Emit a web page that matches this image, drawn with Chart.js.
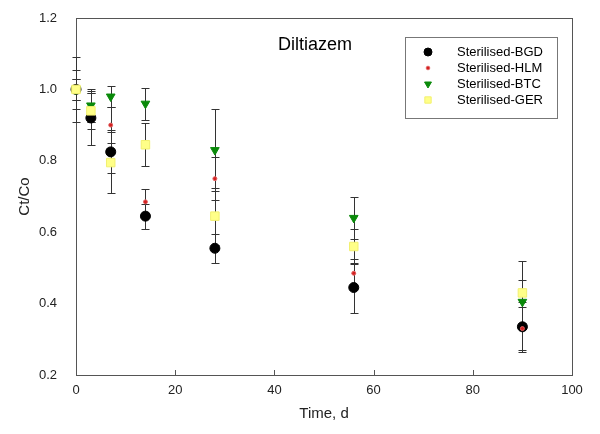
<!DOCTYPE html>
<html>
<head>
<meta charset="utf-8">
<script src="https://cdn.jsdelivr.net/npm/chart.js@4"></script>
<style>
  html, body { margin: 0; padding: 0; background: #fff; }
  #wrap { width: 600px; height: 434px; }
</style>
</head>
<body>
<div id="wrap"><canvas id="chart" width="600" height="434"></canvas></div>
<script>
// sampling days
const times = [0, 3, 7, 14, 28, 56, 90];

// Ct/Co values and error (+/-)
const bgd = [1.0, 0.92, 0.825, 0.645, 0.555, 0.445, 0.335];
const bgdErr = [0.09, 0.075, 0.06, 0.035, 0.04, 0.07, 0.07];
const hlm = [1.0, 0.95, 0.90, 0.685, 0.75, 0.485, 0.33];
const hlmErr = [0.03, 0.04, 0.05, 0.035, 0.06, 0.04, 0.06];
const btc = [1.0, 0.955, 0.98, 0.96, 0.83, 0.64, 0.405];
const btcErr = [0.055, 0.045, 0.03, 0.045, 0.115, 0.06, 0.06];
const ger = [1.0, 0.94, 0.795, 0.845, 0.645, 0.56, 0.43];
const gerErr = [0.03, 0.05, 0.085, 0.06, 0.08, 0.05, 0.09];

const labels = ['Sterilised-BGD', 'Sterilised-HLM', 'Sterilised-BTC', 'Sterilised-GER'];
const xTicks = [0, 20, 40, 60, 80, 100];
const yTicks = [0.2, 0.4, 0.6, 0.8, 1.0, 1.2];

const FONT = '"Liberation Sans", Arial, sans-serif';

function pts(vals, errs) {
    return times.map((t, i) => ({ x: t, y: vals[i], err: errs[i] }));
}

const errorBars = {
    id: 'errorBars',
    beforeDatasetsDraw(chart) {
        const ctx = chart.ctx;
        const xs = chart.scales.x, ys = chart.scales.y;
        ctx.save();
        ctx.strokeStyle = '#333';
        ctx.lineWidth = 1;
        chart.data.datasets.forEach(ds => {
            ds.data.forEach(p => {
                const px = Math.round(xs.getPixelForValue(p.x)) + 0.5;
                const top = Math.round(ys.getPixelForValue(p.y + p.err)) + 0.5;
                const bot = Math.round(ys.getPixelForValue(p.y - p.err)) + 0.5;
                ctx.beginPath();
                ctx.moveTo(px, top); ctx.lineTo(px, bot);
                ctx.moveTo(px - 4, top); ctx.lineTo(px + 4, top);
                ctx.moveTo(px - 4, bot); ctx.lineTo(px + 4, bot);
                ctx.stroke();
            });
        });
        ctx.restore();
    }
};

const frame = {
    id: 'frame',
    beforeDatasetsDraw(chart) {
        const ctx = chart.ctx;
        const a = chart.chartArea;
        ctx.save();
        ctx.strokeStyle = '#555';
        ctx.lineWidth = 1;
        ctx.strokeRect(Math.round(a.left) + 0.5, Math.round(a.top) + 0.5,
            Math.round(a.right - a.left), Math.round(a.bottom - a.top));
        // x ticks point inward
        const xs = chart.scales.x;
        ctx.beginPath();
        xTicks.forEach(v => {
            const px = Math.round(xs.getPixelForValue(v)) + 0.5;
            ctx.moveTo(px, a.bottom); ctx.lineTo(px, a.bottom - 5);
        });
        ctx.stroke();
        ctx.restore();
    },
    afterDraw(chart) {
        const ctx = chart.ctx;
        ctx.save();
        // title inside plot
        ctx.fillStyle = '#000';
        ctx.font = '18px ' + FONT;
        ctx.textBaseline = 'middle';
        ctx.fillText('Diltiazem', 278, 45);
        // legend box
        ctx.strokeStyle = '#777';
        ctx.lineWidth = 1;
        ctx.strokeRect(405.5, 37.5, 152, 81);
        ctx.font = '13px ' + FONT;
        chart.data.datasets.forEach((ds, i) => {
            const y = 52 + i * 16;
            ctx.fillStyle = ds.backgroundColor;
            ctx.strokeStyle = ds.borderColor;
            Chart.helpers.drawPoint(ctx, {
                pointStyle: ds.pointStyle,
                radius: ds.legendRadius,
                rotation: ds.rotation || 0,
                borderWidth: 1
            }, 428, y);
            ctx.fillStyle = '#000';
            ctx.fillText(ds.label, 457, y);
        });
        ctx.restore();
    }
};

new Chart(document.getElementById('chart'), {
    type: 'scatter',
    data: {
        datasets: [
            { label: labels[0], data: pts(bgd, bgdErr), pointStyle: 'circle', pointRadius: 5, legendRadius: 4,
              backgroundColor: '#000', borderColor: '#000', borderWidth: 1, order: 3, clip: false },
            { label: labels[1], data: pts(hlm, hlmErr), pointStyle: 'circle', pointRadius: 2, legendRadius: 1.8,
              backgroundColor: '#d42020', borderColor: '#e06060', borderWidth: 1, order: 2, clip: false },
            { label: labels[2], data: pts(btc, btcErr), pointStyle: 'triangle', pointRadius: 5, legendRadius: 4, rotation: 180,
              backgroundColor: '#0a8a0a', borderColor: '#0a8a0a', borderWidth: 1, order: 1, clip: false },
            { label: labels[3], data: pts(ger, gerErr), pointStyle: 'rect', pointRadius: 6, legendRadius: 4.5,
              backgroundColor: '#ffff88', borderColor: '#f2f070', borderWidth: 1, order: 0, clip: false }
        ]
    },
    plugins: [frame, errorBars],
    options: {
        responsive: false,
        animation: false,
        layout: { padding: { top: 18, right: 28, left: 12, bottom: 0 } },
        plugins: { legend: { display: false }, tooltip: { enabled: false } },
        scales: {
            x: {
                type: 'linear', min: 0, max: 100,
                afterBuildTicks: s => { s.ticks = xTicks.map(v => ({ value: v })); },
                afterFit: s => { s.height = 59; },
                grid: { display: false, drawTicks: false },
                border: { display: false },
                ticks: { color: '#222', padding: 8, font: { size: 13, family: FONT } },
                title: { display: true, text: 'Time, d', color: '#222', padding: { top: 0, bottom: 11 },
                    font: { size: 15, family: FONT } }
            },
            y: {
                type: 'linear', min: 0.2, max: 1.2,
                afterBuildTicks: s => { s.ticks = yTicks.map(v => ({ value: v })); },
                afterFit: s => { s.width = 64; s.paddingTop = 0; s.paddingBottom = 0; },
                grid: { display: false, drawTicks: true, tickLength: 5, color: '#555' },
                border: { display: false },
                ticks: { color: '#222', padding: 14, callback: v => v.toFixed(1),
                    font: { size: 13, family: FONT } },
                title: { display: true, text: 'Ct/Co', color: '#222', padding: { bottom: 0 },
                    font: { size: 15, family: FONT } }
            }
        }
    }
});
</script>
</body>
</html>
